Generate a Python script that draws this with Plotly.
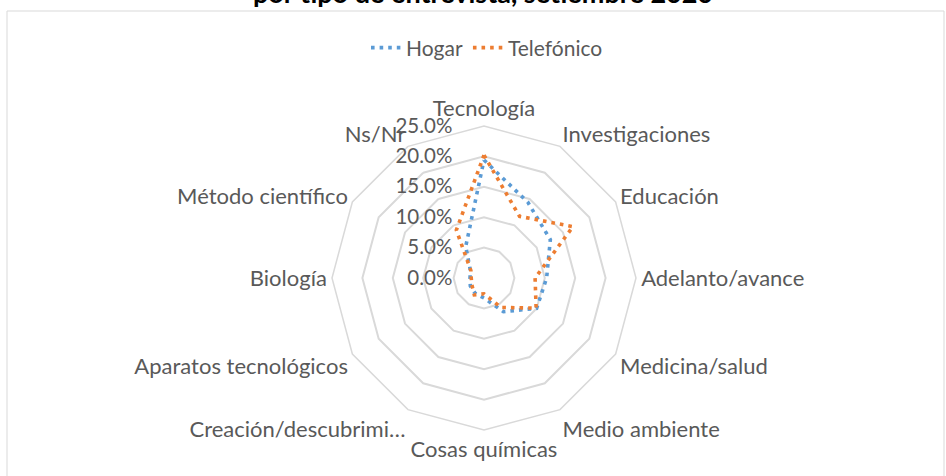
import plotly.graph_objects as go

categories = ["Tecnología", "Investigaciones", "Educación", "Adelanto/avance",
              "Medicina/salud", "Medio ambiente", "Cosas químicas",
              "Creación/descubrimi…", "Aparatos tecnológicos", "Biología",
              "Método científico", "Ns/Nr"]
hogar = [19.4, 14.4, 12.6, 10.3, 10.0, 6.4, 3.3, 2.9, 2.6, 2.3, 2.6, 6.0]
telefonico = [20.2, 11.7, 16.9, 8.4, 9.9, 5.6, 2.6, 3.2, 2.3, 2.1, 2.5, 9.1]
radial_ticks = [0, 5, 10, 15, 20, 25]
radial_labels = ["0.0%", "5.0%", "10.0%", "15.0%", "20.0%", "25.0%"]
title_text = "por tipo de entrevista, setiembre 2020"

W, H = 946, 476
cx, cy, R = 484, 278, 152

FONT = "Lato"
GRAY = "#595959"

fig = go.Figure()
for name, vals, col in [("Hogar", hogar, "#5B9BD5"), ("Telefónico", telefonico, "#ED7D31")]:
    fig.add_trace(go.Scatterpolar(
        r=vals + vals[:1], theta=categories + categories[:1], name=name,
        mode="lines", line=dict(color=col, width=3.6, dash="3.6px,5px"),
        hoverinfo="skip"))

fig.update_layout(
    width=W, height=H,
    margin=dict(l=0, r=0, t=0, b=0),
    paper_bgcolor="white",
    font=dict(family=FONT, color=GRAY, size=21),
    showlegend=True,
    legend=dict(orientation="h", x=487 / W, xanchor="center", y=(H - 48) / H, yanchor="middle",
                font=dict(size=21, color=GRAY, family=FONT), itemwidth=30),
    polar=dict(
        domain=dict(x=[(cx - R) / W, (cx + R) / W], y=[(H - cy - R) / H, (H - cy + R) / H]),
        bgcolor="white",
        gridshape="linear",
        angularaxis=dict(rotation=90, direction="clockwise", showgrid=False, showline=True,
                         linecolor="#D9D9D9", linewidth=1.5, ticks="",
                         tickfont=dict(size=22, color=GRAY, family=FONT)),
        radialaxis=dict(range=[0, 25], tickvals=radial_ticks, ticktext=radial_labels,
                        angle=90, tickangle=90, side="counterclockwise", showline=False,
                        gridcolor="#D9D9D9", gridwidth=1.5, ticks="outside", ticklen=24,
                        tickcolor="rgba(0,0,0,0)",
                        tickfont=dict(size=20.5, color=GRAY, family=FONT)),
    ),
    shapes=[dict(type="rect", xref="paper", yref="paper", x0=7 / W, x1=944 / W,
                 y0=-0.05, y1=(H - 11) / H, line=dict(color="#D9D9D9", width=1))],
    annotations=[dict(text="<b>" + title_text + "</b>", xref="paper", yref="paper",
                      x=483 / W, y=1, xanchor="center", yanchor="bottom", yshift=-11,
                      showarrow=False, font=dict(size=27, color="#000000", family=FONT))],
)

fig.write_html("out.html", config={"displayModeBar": False},
               post_script="document.body.style.margin='0';")
